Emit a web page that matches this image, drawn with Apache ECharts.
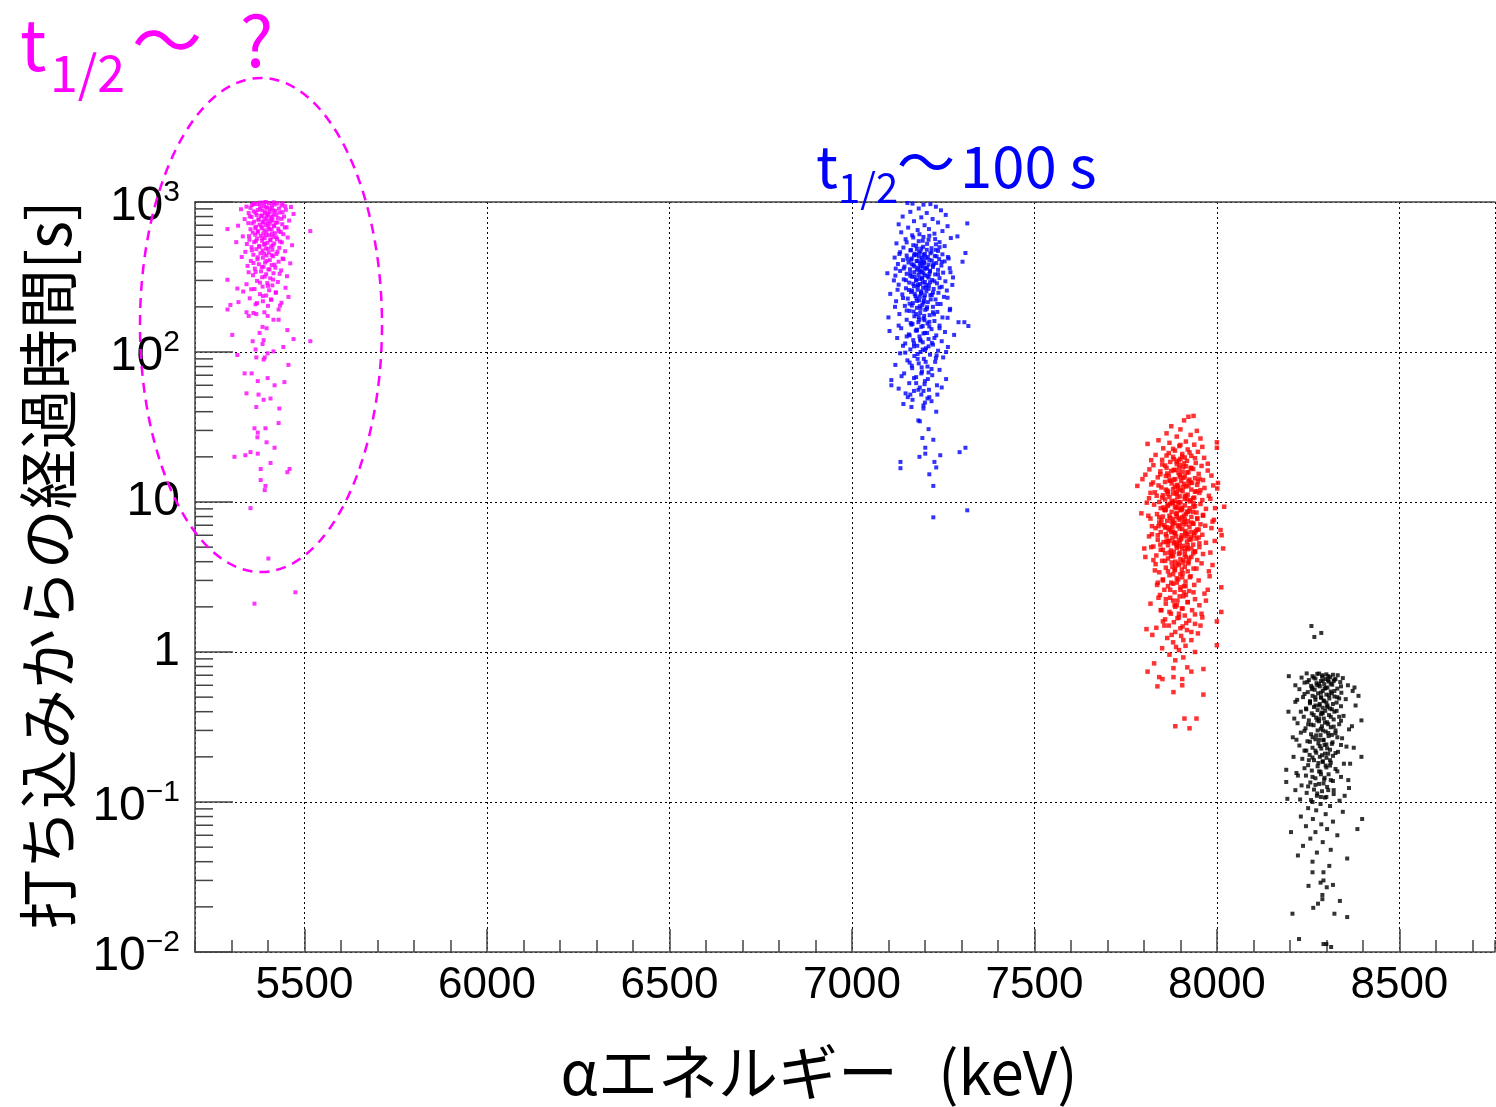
<!DOCTYPE html>
<html>
<head>
<meta charset="utf-8">
<script src="https://cdn.jsdelivr.net/npm/echarts@6/dist/echarts.min.js"></script>
<style>
html,body{margin:0;padding:0;background:#fff;}
#chart{width:1496px;height:1107px;}
</style>
</head>
<body>
<div id="chart"></div>
<script>
// ---- axis settings ----
const xMin = 5200, xMax = 8762;
const yMin = 0.01, yMax = 1000;
const yMinorTicks = [0.02,0.03,0.04,0.05,0.06,0.07,0.08,0.09,0.2,0.3,0.4,0.5,0.6,0.7,0.8,0.9,2,3,4,5,6,7,8,9,20,30,40,50,60,70,80,90,200,300,400,500,600,700,800,900];
const yTickLabels = {1000:['10','3'],100:['10','2'],10:['10',''],1:['1',''],0.1:['10','\u22121'],0.01:['10','\u22122']};

// ---- data: [alpha energy keV, time since implantation s] ----
const magentaPoints = [
[5402,985],[5371,970],[5418,962],[5356,955],[5437,948],[5389,940],[5341,931],[5463,926],[5395,918],[5411,910],[5378,902],[5326,895],[5449,888],[5384,880],[5420,873],[5361,866],[5404,858],[5432,851],[5347,845],[5392,838],[5470,832],[5415,826],[5369,819],[5398,812],[5381,806],[5444,800],[5355,794],[5408,788],[5427,781],[5390,775],[5336,769],[5374,763],[5412,757],[5458,752],[5399,746],[5362,740],[5385,734],[5421,728],[5346,723],[5405,717],[5439,712],[5377,706],[5393,700],[5318,695],[5416,690],[5367,684],[5451,679],[5401,674],[5383,668],[5428,663],[5352,658],[5410,653],[5289,660],[5516,640],[5372,640],[5396,635],[5435,630],[5358,625],[5419,620],[5387,615],[5442,610],[5365,605],[5403,600],[5380,595],[5331,590],[5414,585],[5454,580],[5391,575],[5370,570],[5425,565],[5349,560],[5406,555],[5384,550],[5313,540],[5433,545],[5362,540],[5398,535],[5417,530],[5342,525],[5389,520],[5466,515],[5376,510],[5409,505],[5355,500],[5431,495],[5394,490],[5368,485],[5412,480],[5385,475],[5447,470],[5338,465],[5402,460],[5379,455],[5423,450],[5360,445],[5396,440],[5414,435],[5328,430],[5386,425],[5440,420],[5371,415],[5405,410],[5353,405],[5429,400],[5392,395],[5461,390],[5375,385],[5410,380],[5344,375],[5388,370],[5420,365],[5364,360],[5401,355],[5436,350],[5381,345],[5347,340],[5415,335],[5395,330],[5359,325],[5452,320],[5384,315],[5406,310],[5289,303],[5370,298],[5427,293],[5398,288],[5341,283],[5412,278],[5385,273],[5448,268],[5316,265],[5363,263],[5403,258],[5332,253],[5421,248],[5378,243],[5395,238],[5456,233],[5350,228],[5409,223],[5386,218],[5319,215],[5437,213],[5366,208],[5297,206],[5400,203],
[5388,992],[5425,978],[5360,968],[5410,952],[5379,944],[5447,936],[5398,921],[5352,914],[5430,905],[5405,896],[5372,884],[5415,876],[5392,862],[5440,855],[5366,847],[5401,834],[5423,822],[5383,815],[5350,803],[5412,796],[5396,784],[5437,772],[5374,766],[5408,750],[5388,738],[5426,731],[5357,720],[5399,710],[5417,697],[5382,688],[5446,676],[5365,670],[5404,661],[5390,648],[5430,638],[5372,628],[5411,612],[5395,602],[5348,592],[5423,582],[5384,572],[5407,562],[5367,548],[5438,538],[5392,526],[5413,514],[5376,502],[5400,488],[5356,476],[5426,466],[5389,452],[5410,442],[5372,428],[5442,416],[5396,404],[5360,392],[5418,382],[5383,368],[5404,356],[5366,342],[5432,332],[5391,318],[5414,304],[5378,290],[5400,276],[5354,262],[5422,250],[5386,236],[5408,224],[5370,212],[5433,204],[5394,1000],[5416,995],[5378,990],[5440,982],[5362,976],
[5289,192],[5429,192],[5341,184],[5390,184],[5360,182],[5368,179],[5347,174],[5399,174],[5415,164],[5429,164],[5385,147],[5396,144],[5453,140],[5377,134],[5302,130],[5470,122],[5388,120],[5358,118],[5516,118],[5385,113],[5442,108],[5366,104],[5415,101],[5399,98],[5316,95.5],[5368,92],[5391,92],[5388,89],[5456,82],[5336,72],[5355,72],[5399,67],[5372,64],[5445,63],[5418,60],[5341,53],[5374,52],[5407,49],[5388,48],[5368,43],[5431,42],[5429,33.6],[5363,31],[5393,31],[5372,29],[5371,27],[5396,25],[5418,23],[5352,21.5],[5372,21],[5338,20.5],[5308,20],[5407,18.2],[5380,16.6],[5459,16.6],[5453,15.8],[5380,14],[5393,12.8],[5391,12],[5352,9.1],[5401,4.2],[5475,2.5],[5363,2.1]
];

const bluePoints = [
[7152,985],[7166,975],[7196,960],[7215,968],[7230,930],[7183,905],[7244,880],[7160,860],[7205,845],[7257,820],[7139,800],[7190,790],[7221,770],[7316,720],[7170,745],[7236,730],[7128,710],[7199,700],[7262,690],[7154,675],[7211,660],[7180,650],[7248,640],[7135,628],[7226,615],[7289,590],[7165,600],[7196,585],[7271,575],[7147,565],[7210,560],[7183,548],[7240,540],[7122,530],[7230,522],[7168,515],[7254,508],[7195,503],[7141,497],[7218,492],[7178,486],
[7205,480],[7160,476],[7236,472],[7188,468],[7132,463],[7311,457],[7215,455],[7172,452],[7248,448],[7196,444],[7150,440],[7227,437],[7183,433],[7263,430],[7117,426],[7202,423],[7164,420],[7239,416],[7191,413],[7140,410],[7219,407],[7177,404],[7303,400],[7254,402],[7198,398],[7155,395],[7231,392],[7186,389],[7126,386],[7210,383],[7169,380],[7245,377],[7194,374],[7144,371],[7222,368],[7181,365],[7268,362],[7203,359],[7159,356],[7236,353],
[7097,335],[7188,350],[7132,347],[7214,344],[7171,341],[7250,338],[7196,335],[7150,332],[7228,329],[7183,326],[7119,323],[7207,320],[7165,317],[7277,314],[7240,311],[7192,308],[7142,305],[7220,302],[7176,299],[7256,296],[7200,293],[7157,290],[7233,287],[7186,284],[7128,281],[7211,278],[7170,275],[7246,272],[7195,269],[7148,266],[7224,263],[7180,260],[7105,244],[7260,257],[7204,254],[7162,251],[7237,248],[7189,245],[7138,242],[7215,239],[7174,236],[7252,233],[7198,230],[7153,227],[7229,224],[7184,221],[7121,218],[7208,215],[7167,212],[7243,209],[7193,206],[7145,203],[7222,200],[7178,197],[7269,194],[7201,191],[7158,188],[7234,185],[7187,182],[7130,179],[7213,176],[7171,173],[7100,170],[7248,170],[7196,167],[7150,164],[7226,161],[7182,158],[7292,158],[7308,158],[7207,155],[7163,152],[7240,150],[7319,149],[7190,147],[7135,144],[7218,142],[7175,139],[7103,138],[7255,136],[7200,134],[7156,131],[7231,129],[7185,127],[7124,124],[7210,122],[7168,120],[7246,118],[7194,116],[7146,114],[7222,112],[7179,110],[7263,108],[7203,106],[7160,104],[7236,102],[7188,100],[7132,98],[7214,96],[7171,94],[7250,92],[7197,90],[7152,88],[7228,86],[7183,84],[7119,82],[7207,80],[7165,78],[7240,76],[7192,74],[7143,72],[7220,70],[7176,68],[7258,66],[7108,65],[7200,64],[7157,62],[7233,60],[7108,60],[7186,58],[7128,57],[7211,56],[7170,55],[7147,53],[7190,52],[7207,49],[7166,48],[7218,47],[7141,45],[7196,44],[7163,43],[7196,42],[7231,40],[7182,35],[7186,34.5],[7210,30.6],[7193,26.7],[7223,26],[7201,23],[7311,23],[7295,21.5],[7201,21],[7242,20.5],[7185,20],[7133,18.5],[7226,18.5],[7231,17],[7133,16.8],[7212,15.3],[7223,12.8],[7316,8.8],[7223,7.9],
[7176,445],[7208,430],[7162,412],[7190,396],[7224,385],[7171,372],[7199,361],[7185,343],[7212,331],[7160,322],[7193,313],[7176,304],[7214,292],[7181,280],[7202,268],[7165,257],[7190,249],[7219,240],[7177,228],[7197,219],[7158,210],[7186,202],[7205,194],[7169,186],[7225,178],[7183,171],[7199,163],[7161,156],[7212,148],[7178,141],[7196,133],[7150,127],[7187,121],[7219,115],[7170,109],[7200,103],[7180,97],[7230,91],[7158,85],[7191,79],[7210,73],[7170,67],[7199,61],[7182,56],[7234,52],[7153,50],[7200,46],
[7185,610],[7212,595],[7168,580],[7228,566],[7194,552],[7150,538],[7206,526],[7176,512],[7240,500],[7190,490],[7162,478],[7218,466],[7184,458],[7200,450],[7170,441],[7232,434],[7192,426],[7152,418],[7212,411],[7180,404],[7246,398],[7198,391],[7164,385],[7222,378],[7188,372],[7206,366],[7142,360],[7178,354],[7214,348],[7192,342],[7160,336],[7236,330],[7200,325],[7172,319],[7210,313],[7186,307],[7148,301],[7226,296],[7194,290],[7168,285],[7204,279],[7180,274],[7240,269],[7210,264],[7156,259],[7190,254],[7222,249],[7172,244],[7200,239],[7186,234],[7140,229],[7216,224],[7178,219],[7196,214],[7234,209],[7164,204],[7206,199],[7188,194],[7150,189],[7222,184],[7176,179],[7198,174],[7262,169],[7184,164],[7212,159],[7166,154],[7194,149],[7240,144],[7178,139],[7206,134],[7158,129],[7226,124],[7188,119],[7170,114],[7210,109],[7194,104],[7146,99],[7232,95],[7180,90],[7202,86],[7164,81],[7218,77],[7190,72],[7136,69],[7208,66],[7176,62],[7246,58],[7196,55],[7160,52],[7212,50],[7230,480],[7130,450],[7265,420],[7120,360],[7270,340],[7115,300],[7275,280],[7125,260],[7262,230],[7118,200],[7268,190],[7128,150],[7280,130],[7140,110],[7258,100]
];

const redPoints = [
[7922,37],[7936,37.5],[7910,35],[7875,32],[7900,30.5],[7945,29.8],[7862,28.7],[7928,28],[7890,27.3],[7955,26.5],[7840,25.8],[7915,25.3],[8000,25],[7870,24.8],[7810,24.4],[7938,24.1],[7897,23.6],[7960,23.3],[8000,23],[7853,22.8],[7920,22.4],[7885,22],[7948,21.6],[7868,21.2],[7905,20.9],
[7832,20.6],[7930,20.3],[7880,20],[7965,19.7],[7900,19.4],[7850,19.1],[7918,18.8],[7872,18.5],[7942,18.2],[7890,17.9],[7826,17.6],[7958,17.4],[7908,17.1],[7862,16.9],[7935,16.6],[7882,16.4],[7975,16.2],[7845,16],[7922,15.8],[7895,15.6],[7804,15.2],[7950,15.4],[7868,15],[7912,14.8],[7838,14.6],[7940,14.4],[7886,14.2],[7796,14.2],[7962,14],[7902,13.8],[7858,13.6],[7928,13.5],[8003,13.4],[7876,13.3],[7820,13.1],[7946,13],[7894,12.8],[7782,12.8],[7916,12.7],[7848,12.5],[8001,12.3],[7966,12.4],[7880,12.2],[7930,12.1],[7864,11.9],[7906,11.8],[7830,11.6],[7952,11.5],[7888,11.4],[7920,11.2],[7852,11.1],[7978,11],[7898,10.9],[7870,10.8],[7938,10.7],[7814,10.6],[7912,10.5],[7858,10.4],[7960,10.3],[7884,10.2],[7926,10.1],[7842,10],[7900,9.95],
[7905,20.1],[7890,18.6],[7915,17.3],[7875,16.1],[7898,15.1],[7925,14.1],[7870,13.9],[7910,13.2],[7885,12.6],[7900,12],[7940,11.7],[7865,11.3],[7892,10.8],[7918,10.4],[7876,10.1],[7850,17.8],[7930,16.8],[7860,14.9],[7948,13.7],[7840,12.9],[7955,12],[7835,11],[7882,19.3],[7912,19.8],[7896,16.7],[7908,14.5],[7890,11.6],[7922,13.8],[7864,15.5],[7935,10.6],
[7880,9.85],[7955,9.7],[7828,9.6],[7912,9.5],[7866,9.4],[8020,9.3],[7936,9.3],[7892,9.2],[7846,9.1],[7970,9],[7904,8.9],[7858,8.8],[7925,8.7],[7876,8.6],[7793,8.4],[7944,8.5],[7890,8.4],[7836,8.3],[7962,8.2],[7910,8.1],[7852,8],[7930,7.95],[7872,7.85],[7818,7.75],[7946,7.7],[7898,7.6],[7864,7.5],[7920,7.45],[7988,7.4],[7842,7.3],[7884,7.25],[7936,7.15],[7906,7.1],[7856,7],[7968,6.95],[7878,6.85],[7925,6.8],[7832,6.7],[7898,6.65],[7950,6.55],[8010,6.5],[7868,6.5],[7914,6.4],[7846,6.3],[7938,6.25],[7886,6.2],[7822,6.1],[7960,6.05],[8013,6],[7904,6],[7862,5.9],[7928,5.85],[7878,5.75],[7944,5.7],[7838,5.6],[7896,5.55],[7918,5.45],[7854,5.4],[7970,5.35],[7882,5.3],[7935,5.2],[7866,5.15],[7908,5.1],[7826,5.05],[7952,5],[7890,4.95],[8017,4.9],[7801,4.9],[7920,4.85],[7846,4.8],[7874,4.75],[7940,4.7],[7898,4.6],[7858,4.55],[7962,4.5],[7912,4.45],[7834,4.4],[7880,4.35],[7804,4.3],[7930,4.3],[7866,4.2],[7900,4.15],[7946,4.1],[7850,4.05],[7922,4],
[7895,9.8],[7885,9.3],[7900,8.8],[7915,8.3],[7870,8.1],[7895,7.8],[7910,7.4],[7880,7.2],[7893,6.9],[7905,6.6],[7875,6.3],[7918,6.1],[7888,5.9],[7902,5.65],[7870,5.5],[7925,5.6],[7890,5.25],[7905,4.9],[7882,4.65],[7915,4.3],[7860,8.9],[7935,8.6],[7848,7.6],[7955,7.1],[7840,6.9],[7942,6.4],[7860,6.1],[7950,5.8],[7845,5.2],[7935,4.55],[7865,9.6],[7925,9.1],[7905,7.9],[7872,6.7],[7928,6.3],[7896,5.05],[7876,4.45],[7908,4.1],[7888,9.1],[7918,8.6],[7880,7.7],[7930,7.3],[7862,6.8],[7915,5.9],[7884,5.4],[7920,5.15],
[7876,3.95],[7958,3.9],[7832,3.85],[7896,3.8],[7912,3.7],[7860,3.65],[7936,3.6],[7884,3.5],[7978,3.45],[7842,3.4],[7906,3.35],[7870,3.25],[7928,3.2],[7890,3.1],[7852,3.05],[7950,3],[7914,2.95],[7838,2.9],[7880,2.85],[7938,2.8],[7866,2.75],[8012,2.7],[7900,2.7],[7856,2.6],[7924,2.55],[7884,2.5],[7966,2.45],[7844,2.4],[7908,2.35],[7872,2.3],[7940,2.25],[7892,2.2],[7818,2.1],[7920,2.15],[7860,2.1],[7952,2.05],[7886,2],[7904,1.95],[7846,1.9],[7932,1.9],[8012,1.85],[7874,1.8],[7912,1.75],[7896,1.7],[7960,1.7],[7858,1.65],[7924,1.62],[8000,1.6],[7882,1.58],[7940,1.54],[7868,1.5],[7906,1.48],[7834,1.45],
[7895,3.9],[7885,3.55],[7905,3.15],[7875,2.9],[7900,2.6],[7915,2.4],[7890,2.05],[7880,3.3],[7920,3.45],[7910,2.75],
[7807,1.42],[7918,1.4],[7886,1.36],[7948,1.33],[7823,1.3],[7902,1.28],[7864,1.24],[7930,1.2],[7880,1.16],[8000,1.11],[7914,1.1],[7850,1.06],[7896,1.03],[7940,1],[7870,0.96],[7908,0.92],[7886,0.88],[7828,0.84],[7919,0.79],[7881,0.78],[7963,0.77],[7810,0.74],[7930,0.74],[7842,0.68],[7881,0.68],[7851,0.66],[7905,0.66],[7905,0.6],[7837,0.59],[7881,0.54],[7963,0.52],[7911,0.36],[7944,0.36],[7886,0.32],[7925,0.31],
[7900,24],[7880,22.6],[7925,21.4],[7862,20.4],[7940,19.6],[7895,18.9],[7910,18.1],[7858,17.5],[7928,16.9],[7885,16.3],[7918,15.7],[7845,15.3],[7900,14.7],[7952,14.3],[7872,13.9],[7932,13.4],[7890,13],[7908,12.6],[7860,12.1],[7944,11.8],[7880,11.4],[7915,11],[7850,10.7],[7928,10.3],[7895,10],[7872,9.7],[7940,9.4],[7905,9.15],[7856,8.9],[7920,8.6],[7888,8.35],[7962,8.1],[7842,7.9],[7912,7.65],[7876,7.4],[7934,7.2],[7896,7],[7858,6.75],[7946,6.55],[7880,6.35],[7914,6.2],[7838,6],[7902,5.8],[7930,5.65],[7866,5.5],[7952,5.3],[7890,5.1],[7918,4.95],[7852,4.8],[7940,4.65],[7896,4.5],[7874,4.35],[7924,4.2],[7858,4.05],[7908,3.95],[7886,3.75],[7944,3.6],[7866,3.45],[7900,3.3],[7926,3.15],[7852,3],[7890,2.9],[7914,2.75],[7872,2.6],[7936,2.5],[7898,2.35],[7860,2.25],[7920,2.15],[7884,2.05],[7906,1.95],[7870,1.85],[7940,1.78],[7892,1.68],[7916,1.56],[7856,1.5],[7900,1.44],[7930,1.36],[7876,1.3],[7908,1.2],[7888,1.08],
[7820,19],[7975,18],[7815,16.5],[7985,15],[7825,13.5],[7990,12.9],[7818,11.5],[7982,10.5],[7808,9.9],[7995,9.1],[7812,8.1],[7992,7.6],[7822,6.9],[7985,6.7],[7814,5.9],[7994,5.5],[7820,5],[7982,4.6],[7826,4.1],[7988,3.8],[7830,3.5],[7980,3.2],[7836,2.8],[7975,2.6],[7840,2.3],[7970,2.2],[7848,1.9],[7958,1.8],[7852,1.6],[7955,1.5],
[7898,17.6],[7906,15.9],[7882,14.1],[7894,12.3],[7912,10.9],[7878,9.9],[7902,9],[7890,8],[7916,7.1],[7884,6.2],[7898,5.35],[7912,4.7],[7886,4],[7904,3.55],[7894,3.05],[7910,2.5],[7880,2.2],[7896,1.8],[7922,12.9],[7866,11.7],[7936,9.8],[7854,9.2],[7946,7.8],[7848,7.1],[7938,6],[7862,5.45],[7930,4.9],[7870,4.6],[7922,3.9],[7878,3.7]
];

const blackPoints = [
[8259,1.49],[8267,1.26],[8286,1.34],
[8246,0.72],[8275,0.715],[8300,0.71],[8318,0.705],[8331,0.7],[8197,0.69],[8262,0.69],[8288,0.685],[8310,0.68],[8232,0.675],[8345,0.67],[8270,0.665],[8298,0.66],[8322,0.655],[8252,0.65],[8285,0.64],[8306,0.635],[8338,0.63],[8240,0.625],[8273,0.62],[8294,0.61],[8316,0.605],[8359,0.6],[8258,0.595],[8282,0.59],[8377,0.58],[8303,0.58],[8330,0.57],[8226,0.565],[8268,0.56],[8290,0.55],[8312,0.545],[8249,0.54],[8341,0.535],[8277,0.53],[8300,0.52],[8388,0.51],[8262,0.51],[8322,0.505],[8236,0.5],[8286,0.495],[8308,0.49],[8353,0.485],[8270,0.48],[8294,0.47],[8215,0.465],[8328,0.46],[8255,0.455],[8282,0.45],[8303,0.44],[8340,0.435],[8266,0.43],[8290,0.425],[8244,0.42],[8315,0.415],[8276,0.41],[8297,0.405],[8196,0.4],[8230,0.4],[8322,0.4],
[8260,0.39],[8285,0.385],[8307,0.38],[8347,0.375],[8238,0.37],[8272,0.365],[8293,0.36],[8396,0.35],[8320,0.355],[8252,0.35],[8280,0.345],[8302,0.34],[8221,0.335],[8335,0.33],[8265,0.325],[8288,0.32],[8312,0.315],[8243,0.31],[8362,0.305],[8276,0.3],[8298,0.295],[8230,0.29],[8325,0.287],[8258,0.283],[8284,0.279],[8306,0.275],[8208,0.27],[8343,0.266],[8270,0.262],[8292,0.258],[8248,0.254],[8317,0.25],[8278,0.246],[8300,0.242],[8226,0.238],[8355,0.234],[8262,0.23],[8286,0.227],[8310,0.223],[8240,0.22],[8332,0.216],[8272,0.213],[8296,0.21],[8254,0.206],[8396,0.2],[8318,0.203],[8282,0.2],[8300,0.197],
[8234,0.194],[8266,0.19],[8290,0.187],[8312,0.183],[8348,0.18],[8250,0.176],[8276,0.173],[8300,0.17],[8190,0.164],[8325,0.166],[8260,0.162],[8284,0.159],[8218,0.156],[8306,0.153],[8244,0.15],[8340,0.147],[8270,0.144],[8294,0.141],[8190,0.136],[8318,0.138],[8256,0.135],[8280,0.132],[8232,0.129],[8302,0.126],[8362,0.124],[8266,0.121],[8288,0.118],[8246,0.115],[8320,0.113],[8274,0.11],[8296,0.107],[8193,0.105],[8228,0.104],[8336,0.102],[8262,0.1],
[8284,0.097],[8310,0.094],[8250,0.091],[8272,0.088],[8345,0.086],[8298,0.083],[8230,0.08],[8398,0.077],[8263,0.077],[8318,0.074],[8286,0.071],[8244,0.069],[8385,0.066],[8302,0.066],[8203,0.063],[8270,0.063],[8330,0.06],[8256,0.057],[8290,0.054],[8236,0.051],[8312,0.048],[8274,0.046],[8222,0.044],[8357,0.042],[8262,0.04],[8308,0.0375],[8262,0.034],[8292,0.034],[8292,0.03],[8284,0.029],[8318,0.028],[8251,0.0276],[8301,0.027],[8289,0.024],[8289,0.0225],[8337,0.0219],[8277,0.021],[8264,0.0197],[8207,0.018],[8322,0.018],[8357,0.0171],[8225,0.0122],[8292,0.0113],[8300,0.0113],[8313,0.0108],
[8290,0.70],[8305,0.65],[8280,0.61],[8295,0.57],[8315,0.53],[8285,0.5],[8300,0.46],[8270,0.44],[8310,0.42],[8290,0.39],[8275,0.35],[8305,0.33],[8290,0.3],[8315,0.28],[8280,0.26],[8295,0.24],[8270,0.22],[8305,0.21],[8290,0.185],[8310,0.175],[8280,0.16],[8295,0.145],[8270,0.13],[8305,0.12],[8285,0.108],[8320,0.64],[8262,0.58],[8330,0.5],[8255,0.47],[8335,0.37],[8250,0.33],[8325,0.3],[8262,0.27],[8340,0.24],[8252,0.19],
[8280,0.718],[8305,0.69],[8265,0.675],[8325,0.66],[8290,0.645],[8248,0.63],[8312,0.615],[8275,0.6],[8340,0.59],[8298,0.575],[8260,0.565],[8322,0.55],[8285,0.535],[8240,0.525],[8307,0.515],[8270,0.5],[8335,0.49],[8292,0.475],[8255,0.465],[8318,0.45],[8280,0.44],[8302,0.43],[8245,0.415],[8328,0.405],[8288,0.395],[8265,0.38],[8312,0.37],[8280,0.36],[8340,0.348],[8296,0.338],[8258,0.328],[8320,0.318],[8285,0.308],[8240,0.298],[8305,0.288],[8272,0.278],[8330,0.27],[8292,0.26],[8255,0.252],[8315,0.244],[8282,0.236],[8302,0.228],[8245,0.22],[8325,0.212],[8288,0.205],[8262,0.198],[8310,0.19],[8278,0.182],[8298,0.175],[8240,0.168],[8330,0.16],[8285,0.153],[8262,0.147],[8312,0.14],[8292,0.133],[8250,0.127],[8320,0.12],[8275,0.114],[8300,0.108],[8258,0.103],
[8215,0.6],[8372,0.55],[8220,0.48],[8380,0.44],[8212,0.36],[8370,0.32],[8218,0.26],[8375,0.23],[8210,0.2],[8365,0.18],[8222,0.15],[8360,0.14],[8215,0.12],[8350,0.11]
];

// ---- chart ----
const chart = echarts.init(document.getElementById('chart'), null, {renderer: 'canvas'});
const axisColor = '#444';
const labelFont = 'Liberation Sans, Arial, sans-serif';
const jpFont = 'Noto Sans CJK JP, sans-serif';

function scatter(name, data, color, size) {
  return {
    name, type: 'scatter', data, xAxisIndex: 0, yAxisIndex: 0,
    symbol: 'rect', symbolSize: size,
    itemStyle: {color}, silent: true, animation: false
  };
}

function annot(text, x, y, size, color) {
  return {type: 'text', x, y, z: 100, silent: true,
    style: {text, fontSize: size, fontFamily: jpFont, fill: color, textAlign: 'left', textVerticalAlign: 'middle'}};
}

const option = {
  animation: false,
  backgroundColor: '#fff',
  grid: {left: 195, top: 202, width: 1300, height: 750, show: false},
  xAxis: [
    {
      type: 'value', min: xMin, max: xMax, interval: 100, position: 'bottom',
      axisLine: {show: true, lineStyle: {color: axisColor, width: 1.5}},
      axisTick: {show: true, inside: true, length: 12, lineStyle: {color: axisColor, width: 1.5}},
      axisLabel: {show: false},
      splitLine: {show: false}
    },
    {
      type: 'value', min: xMin, max: xMax, splitNumber: 7, position: 'bottom',
      axisLine: {show: false},
      axisTick: {show: true, inside: true, length: 23, lineStyle: {color: axisColor, width: 1.5}},
      axisLabel: {
        show: true, showMinLabel: false, showMaxLabel: false, margin: 12,
        fontSize: 44, fontFamily: labelFont, color: '#000',
        formatter: v => (v % 500 === 0 ? String(v) : '')
      },
      splitLine: {show: true, lineStyle: {color: '#000', type: [2, 3], width: 1}}
    },
    {
      type: 'value', min: xMin, max: xMax, position: 'top',
      axisLine: {show: true, lineStyle: {color: axisColor, width: 1.5}},
      axisTick: {show: false}, axisLabel: {show: false}, splitLine: {show: false}
    }
  ],
  yAxis: {
    type: 'log', logBase: 10, min: yMin, max: yMax,
    axisLine: {show: true, lineStyle: {color: axisColor, width: 1.5}},
    axisTick: {show: true, inside: true, length: 38, lineStyle: {color: axisColor, width: 1.5}},
    axisLabel: {
      margin: 15, color: '#000',
      formatter: v => {
        const key = Object.keys(yTickLabels).find(k => Math.abs(Math.log10(+k) - Math.log10(v)) < 1e-6);
        if (!key) return '';
        const [b, s] = yTickLabels[key];
        return s ? '{bs|' + b + '}{s|' + s + '}' : '{b|' + b + '}';
      },
      rich: {
        b: {fontSize: 48, fontFamily: labelFont, color: '#000', lineHeight: 48},
        bs: {fontSize: 48, fontFamily: labelFont, color: '#000', lineHeight: 48, padding: [10, 0, 0, 0]},
        s: {fontSize: 30, fontFamily: labelFont, color: '#000', lineHeight: 8, verticalAlign: 'top'}
      }
    },
    splitLine: {show: true, lineStyle: {color: '#000', type: [2, 3], width: 1}}
  },
  series: [
    {
      type: 'custom', coordinateSystem: 'cartesian2d', xAxisIndex: 0, yAxisIndex: 0,
      silent: true, clip: false, z: 3,
      data: yMinorTicks.map(v => [xMin, v]),
      renderItem: (params, api) => {
        const p = api.coord([api.value(0), api.value(1)]);
        return {type: 'line', shape: {x1: p[0], y1: p[1], x2: p[0] + 18, y2: p[1]}, style: {stroke: axisColor, lineWidth: 1.5}};
      }
    },
    scatter('magenta', magentaPoints, '#ff00ff', 4),
    scatter('blue', bluePoints, '#0000ff', 4),
    scatter('red', redPoints, '#ff0000', 4.5),
    scatter('black', blackPoints, '#000000', 4)
  ],
  graphic: [
    {type: 'ellipse', shape: {cx: 261, cy: 325, rx: 121, ry: 247}, style: {fill: 'none', stroke: '#ff00ff', lineWidth: 2.5, lineDash: [10, 7]}, z: 100, silent: true},
    annot('t', 20, 44, 70, '#ff00ff'),
    annot('1/2', 50, 73, 50, '#ff00ff'),
    annot('\uFF5E', 132, 40, 70, '#ff00ff'),
    annot('?', 240, 40, 70, '#ff00ff'),
    annot('t', 816, 166, 58, '#0000ff'),
    annot('1/2', 838, 188, 40, '#0000ff'),
    annot('\uFF5E', 897, 162, 58, '#0000ff'),
    annot('100 s', 960, 166, 58, '#0000ff'),
    {type: 'text', x: 819, y: 1072, z: 100, silent: true, style: {text: '\u03B1エネルギー   (keV)', fontSize: 60, fontFamily: jpFont, fill: '#000', textAlign: 'center', textVerticalAlign: 'middle'}},
    {type: 'text', x: 48, y: 565, rotation: Math.PI / 2, z: 100, silent: true, style: {text: '打ち込みからの経過時間[s]', fontSize: 60, fontFamily: jpFont, fill: '#000', textAlign: 'center', textVerticalAlign: 'middle'}}
  ]
};
chart.setOption(option);
</script>
</body>
</html>
